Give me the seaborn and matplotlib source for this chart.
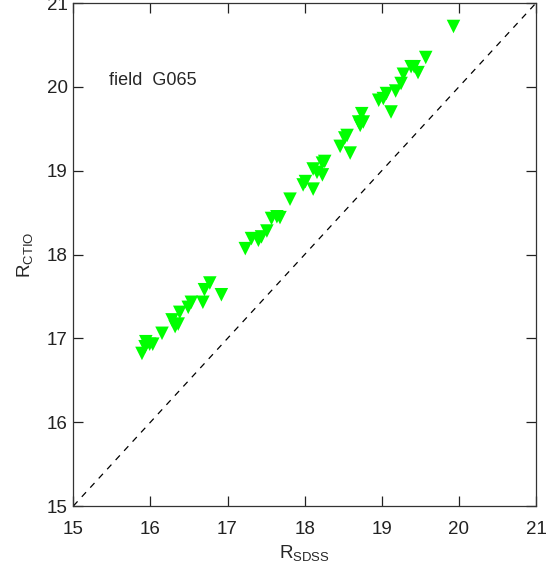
import matplotlib
matplotlib.use("Agg")
import matplotlib.pyplot as plt
import seaborn as sns
import pandas as pd

r_sdss = [15.89, 15.94, 15.93, 15.99, 16.03, 16.15, 16.28, 16.32, 16.36, 16.38,
          16.49, 16.53, 16.68, 16.70, 16.77, 16.92, 17.23, 17.31, 17.40, 17.44,
          17.51, 17.57, 17.64, 17.68, 17.81, 17.98, 18.01, 18.11, 18.11, 18.16,
          18.23, 18.23, 18.26, 18.46, 18.52, 18.55, 18.59, 18.70, 18.74, 18.76,
          18.72, 18.96, 19.02, 19.06, 19.12, 19.18, 19.25, 19.28, 19.38, 19.42,
          19.47, 19.57, 19.93]
r_ctio = [16.82, 16.96, 16.90, 16.93, 16.93, 17.06, 17.22, 17.14, 17.17, 17.31,
          17.37, 17.43, 17.43, 17.58, 17.66, 17.52, 18.07, 18.19, 18.17, 18.21,
          18.28, 18.43, 18.45, 18.44, 18.66, 18.83, 18.87, 18.78, 19.02, 18.98,
          19.09, 18.95, 19.11, 19.29, 19.39, 19.42, 19.21, 19.58, 19.68, 19.58,
          19.54, 19.84, 19.86, 19.92, 19.70, 19.95, 20.04, 20.15, 20.24, 20.24,
          20.17, 20.35, 20.72]
ticks = [15, 16, 17, 18, 19, 20, 21]
one_to_one = [15, 21]

sns.set_style("ticks")
plt.rcParams['font.family'] = ['Liberation Sans', 'DejaVu Sans']
plt.rcParams['mathtext.fontset'] = 'custom'
plt.rcParams['mathtext.rm'] = 'Liberation Sans'

df = pd.DataFrame({"x": r_sdss, "y": r_ctio})

fig = plt.figure(figsize=(5.46, 5.69), dpi=100)
ax = fig.add_axes([0.1343, 0.1107, 0.9817 - 0.1343, 0.9947 - 0.1107])

ax.plot(one_to_one, one_to_one, color="black", lw=0.9, ls=(0, (5, 5)))
sns.scatterplot(data=df, x="x", y="y", marker="v", s=95, color="#00ff00",
                edgecolor="none", linewidth=0, ax=ax, zorder=3)

ax.set_xlim(15, 21)
ax.set_ylim(15, 21)
ax.set_xticks(ticks)
ax.set_yticks(ticks)
ax.tick_params(direction="in", length=7, width=0.9, top=True, right=True,
               labelsize=13.5, colors="#222222")
ax.tick_params(axis="x", pad=11)
ax.tick_params(axis="y", pad=4)
for sp in ax.spines.values():
    sp.set_linewidth(0.9)
    sp.set_color("#333333")

ax.set_xlabel(r"R$_{\mathrm{SDSS}}$", fontsize=13.5, labelpad=4)
ax.set_ylabel(r"R$_{\mathrm{CTIO}}$", fontsize=13.5, labelpad=8)
ax.text(15.46, 20.08, "field  G065", fontsize=13, va="center", ha="left")

fig.savefig("out.png", dpi=100)
